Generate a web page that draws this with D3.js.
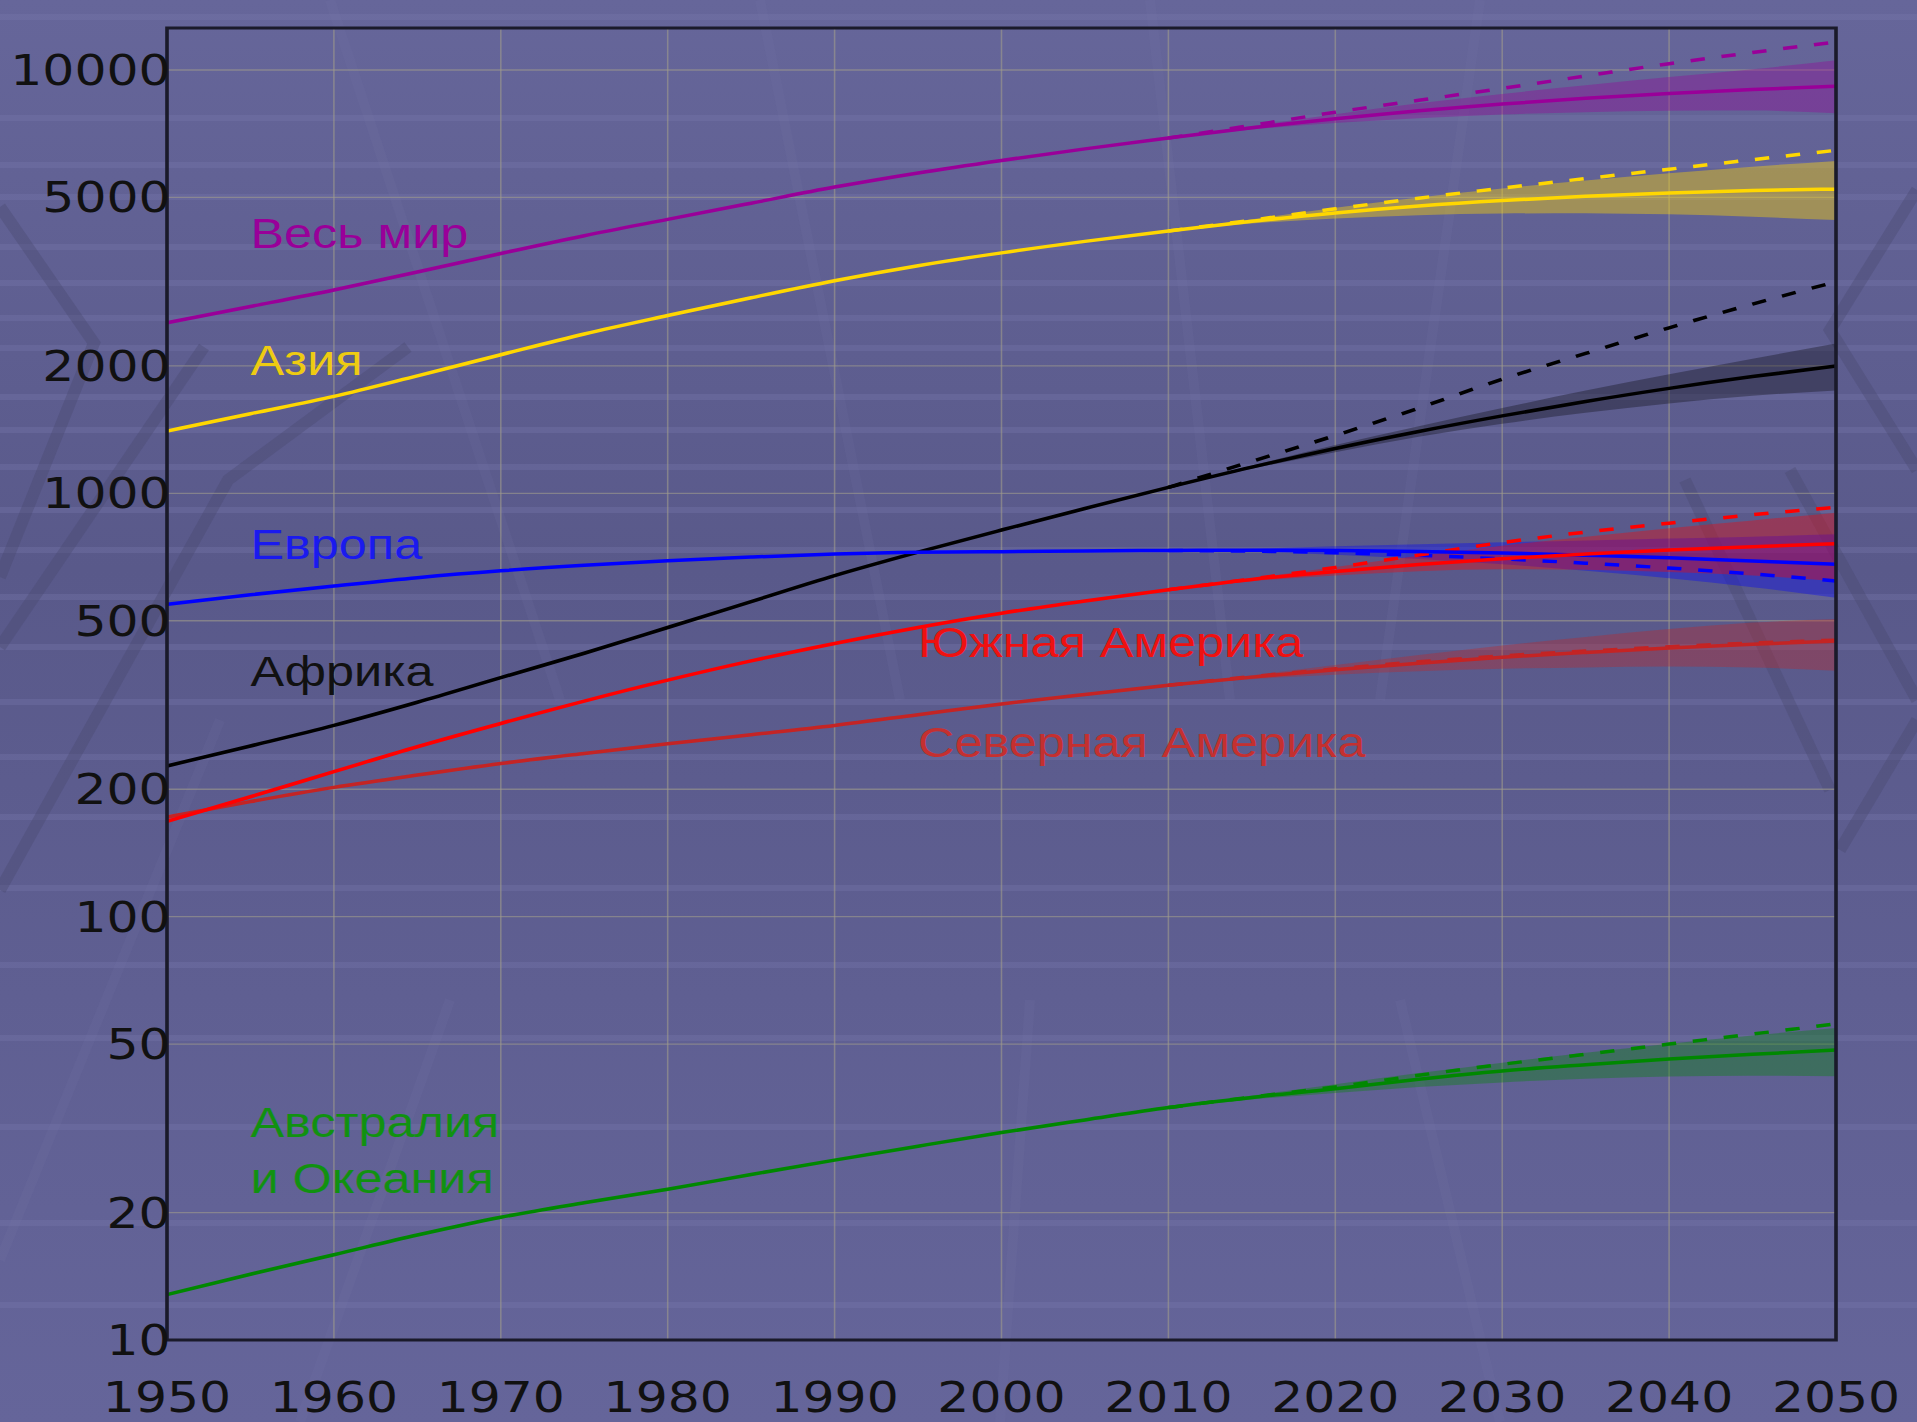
<!DOCTYPE html>
<html>
<head>
<meta charset="utf-8">
<script src="https://cdn.jsdelivr.net/npm/d3@7/dist/d3.min.js"></script>
<style>
  html, body { margin: 0; padding: 0; background: #5e5e8e; overflow: hidden; }
  .tick-label { font-family: "DejaVu Sans", sans-serif; font-size: 42px; fill: #111; }
  .series-label { font-family: "Liberation Sans", Arial, sans-serif; font-size: 42px; }
</style>
</head>
<body>
<div id="chart"></div>
<script>
// years
var histYears = [1950, 1955, 1960, 1965, 1970, 1975, 1980, 1985, 1990, 1995, 2000, 2005, 2010];
var projYears = [2010, 2015, 2020, 2025, 2030, 2035, 2040, 2045, 2050];
var xTicks = [1950, 1960, 1970, 1980, 1990, 2000, 2010, 2020, 2030, 2040, 2050];
var yTicks = [10, 20, 50, 100, 200, 500, 1000, 2000, 5000, 10000];

// population, millions
var worldHist = [2529, 2763, 3023, 3332, 3686, 4061, 4438, 4846, 5290, 5713, 6115, 6512, 6909];
var worldMed = [6909, 7302, 7675, 8012, 8309, 8571, 8801, 8996, 9150];
var worldLow = [6909, 7235, 7493, 7693, 7850, 7950, 8010, 8020, 7900];
var worldHigh = [6909, 7370, 7860, 8340, 8780, 9200, 9620, 10040, 10550];
var worldConst = [6909, 7400, 7950, 8480, 9050, 9680, 10350, 11000, 11650];

var asiaHist = [1403, 1542, 1694, 1894, 2125, 2379, 2630, 2897, 3178, 3448, 3698, 3937, 4167];
var asiaMed = [4167, 4391, 4596, 4773, 4917, 5032, 5125, 5190, 5231];
var asiaLow = [4167, 4340, 4460, 4540, 4580, 4590, 4560, 4500, 4420];
var asiaHigh = [4167, 4440, 4730, 5000, 5250, 5480, 5700, 5910, 6100];
var asiaConst = [4167, 4420, 4700, 4980, 5260, 5540, 5830, 6140, 6460];

var africaHist = [227, 253, 283, 321, 367, 419, 482, 555, 639, 726, 819, 921, 1033];
var africaMed = [1033, 1153, 1276, 1400, 1524, 1648, 1770, 1887, 1998];
var africaLow = [1033, 1143, 1250, 1360, 1460, 1550, 1630, 1700, 1750];
var africaHigh = [1033, 1163, 1300, 1440, 1590, 1750, 1910, 2080, 2260];
var africaConst = [1033, 1190, 1370, 1590, 1860, 2140, 2460, 2800, 3160];

var europeHist = [547, 576, 604, 632, 656, 676, 693, 707, 719, 726, 728, 731, 733];
var europeMed = [733, 734, 733, 729, 723, 714, 704, 692, 680];
var europeLow = [733, 728, 716, 700, 680, 656, 630, 600, 567];
var europeHigh = [733, 740, 750, 758, 766, 774, 782, 790, 800];
var europeConst = [733, 730, 724, 714, 700, 684, 666, 645, 621];

var latamHist = [168, 192, 220, 252, 286, 323, 362, 402, 442, 482, 521, 557, 592];
var latamMed = [592, 626, 654, 679, 701, 719, 735, 748, 760];
var latamLow = [592, 620, 640, 655, 662, 660, 652, 640, 620];
var latamHigh = [592, 630, 670, 712, 752, 790, 827, 863, 900];
var latamConst = [592, 628, 668, 715, 765, 810, 850, 890, 927];

var namHist = [172, 187, 202, 216, 230, 243, 256, 269, 283, 300, 318, 335, 352];
var namMed = [352, 368, 383, 397, 410, 421, 431, 440, 448];
var namLow = [352, 364, 373, 380, 385, 388, 390, 388, 381];
var namHigh = [352, 372, 393, 415, 437, 458, 478, 495, 505];
var namConst = [352, 369, 385, 400, 413, 424, 434, 443, 450];

var oceaniaHist = [12.8, 14.3, 15.9, 17.7, 19.5, 21.1, 22.7, 24.6, 26.6, 28.7, 30.9, 33.1, 35.4];
var oceaniaMed = [35.4, 37.4, 39.2, 41.3, 43.2, 44.7, 46.1, 47.3, 48.4];
var oceaniaLow = [35.4, 37.0, 38.3, 39.6, 40.6, 41.4, 41.9, 42.1, 42.0];
var oceaniaHigh = [35.4, 37.8, 40.2, 42.7, 45.2, 47.7, 50.1, 52.4, 54.6];
var oceaniaConst = [35.4, 37.5, 39.6, 42.2, 44.8, 47.3, 50.0, 52.8, 55.8];

var regions = [
  { label: ["Весь мир"], color: "#990099", text: "#990099", band: 0.35, lx: 1955, ly: 3800,
    hist: worldHist, med: worldMed, low: worldLow, high: worldHigh, cst: worldConst },
  { label: ["Азия"], color: "#ffd700", text: "#eecb12", band: 0.4, lx: 1955, ly: 1900,
    hist: asiaHist, med: asiaMed, low: asiaLow, high: asiaHigh, cst: asiaConst },
  { label: ["Африка"], color: "#000000", text: "#111111", band: 0.3, lx: 1955, ly: 350,
    hist: africaHist, med: africaMed, low: africaLow, high: africaHigh, cst: africaConst },
  { label: ["Европа"], color: "#0000ff", text: "#1a1aee", band: 0.35, lx: 1955, ly: 700,
    hist: europeHist, med: europeMed, low: europeLow, high: europeHigh, cst: europeConst },
  { label: ["Северная Америка"], color: "#c42424", text: "#c43030", band: 0.35, lx: 1995, ly: 238,
    hist: namHist, med: namMed, low: namLow, high: namHigh, cst: namConst },
  { label: ["Южная Америка"], color: "#ff0000", text: "#ee1111", band: 0.35, lx: 1995, ly: 410,
    hist: latamHist, med: latamMed, low: latamLow, high: latamHigh, cst: latamConst },
  { label: ["Австралия", "и Океания"], color: "#008800", text: "#119111", band: 0.35, lx: 1955, ly: 30.1,
    hist: oceaniaHist, med: oceaniaMed, low: oceaniaLow, high: oceaniaHigh, cst: oceaniaConst }
];

// the picture is stretched horizontally, so draw in a narrower viewBox
var stretch = 1.2;
var fullW = 1917, fullH = 1422;
var W = fullW / stretch, H = fullH;
var margin = { top: 28, left: 167 / stretch, right: W - 1836 / stretch, bottom: H - 1340 };

var svg = d3.select("#chart").append("svg")
  .attr("width", fullW).attr("height", fullH)
  .attr("viewBox", "0 0 " + W + " " + H)
  .attr("preserveAspectRatio", "none")
  .style("display", "block");

// background
var defs = svg.append("defs");
var grad = defs.append("linearGradient").attr("id", "bg").attr("x1", 0).attr("y1", 0).attr("x2", 0).attr("y2", 1);
grad.append("stop").attr("offset", "0%").attr("stop-color", "#66669a");
grad.append("stop").attr("offset", "40%").attr("stop-color", "#59598a");
grad.append("stop").attr("offset", "100%").attr("stop-color", "#65659a");
svg.append("rect").attr("width", W).attr("height", H).attr("fill", "url(#bg)");

// decoration in full-size pixel coords
var decor = svg.append("g").attr("transform", "scale(" + (1 / stretch) + ",1)");
var stripes = [17, 118, 165, 197, 247, 283, 318, 348, 397, 430, 467, 510, 550, 597, 647, 702, 757, 817, 888, 965, 1038, 1127, 1223, 1305];
decor.selectAll(".stripe").data(stripes).enter().append("rect")
  .attr("x", 0).attr("y", (d) => d - 3).attr("width", fullW).attr("height", 6)
  .attr("fill", "#7a7aae").attr("opacity", 0.32);
var lightLines = [
  [[330, 0], [560, 700]], [[760, 0], [900, 700]], [[1150, 0], [1230, 700]],
  [[1480, 0], [1380, 700]], [[0, 1260], [220, 720]],
  [[300, 1422], [450, 1000]], [[1000, 1422], [1030, 1000]], [[1500, 1422], [1400, 1000]]
];
decor.selectAll(".light").data(lightLines).enter().append("path")
  .attr("d", d3.line())
  .attr("fill", "none").attr("stroke", "#7c7cac").attr("stroke-width", 10).attr("opacity", 0.12);
var darkLines = [
  [[0, 207], [94, 343], [0, 577]],
  [[204, 347], [0, 647]],
  [[408, 347], [228, 480], [0, 890]],
  [[1917, 190], [1830, 330], [1917, 470]],
  [[1790, 470], [1917, 700]],
  [[1917, 720], [1840, 850]],
  [[1685, 480], [1830, 790]]
];
decor.selectAll(".dark").data(darkLines).enter().append("path")
  .attr("d", d3.line())
  .attr("fill", "none").attr("stroke", "#48486e").attr("stroke-width", 12).attr("opacity", 0.35);

var x = d3.scaleLinear().domain([1950, 2050]).range([margin.left, W - margin.right]);
var y = d3.scaleLog().domain([10, 10000]).range([H - margin.bottom, 70]);

var g = svg.append("g");

// grid
g.selectAll(".vgrid").data(xTicks.slice(1, -1)).enter().append("line")
  .attr("x1", (d) => x(d)).attr("x2", (d) => x(d))
  .attr("y1", margin.top).attr("y2", H - margin.bottom)
  .attr("stroke", "#a09c8c").attr("stroke-width", 1.3).attr("opacity", 0.6);
g.selectAll(".hgrid").data(yTicks).enter().append("line")
  .attr("x1", x(1950)).attr("x2", x(2050))
  .attr("y1", (d) => y(d)).attr("y2", (d) => y(d))
  .attr("stroke", "#a09c8c").attr("stroke-width", 1.3).attr("opacity", 0.6);

function pairs(years, vals) {
  return years.map(function (yr, i) { return [yr, vals[i]]; });
}

var line = d3.line().x((d) => x(d[0])).y((d) => y(d[1])).curve(d3.curveMonotoneX);
var area = d3.area()
  .x((d) => x(d.year)).y0((d) => y(d.lo)).y1((d) => y(d.hi))
  .curve(d3.curveMonotoneX);

// uncertainty bands
regions.forEach(function (r) {
  var rows = projYears.map(function (yr, i) { return { year: yr, lo: r.low[i], hi: r.high[i] }; });
  g.append("path").datum(rows)
    .attr("d", area)
    .attr("fill", r.color).attr("fill-opacity", r.band).attr("stroke", "none");
});

// constant fertility (dashed)
regions.forEach(function (r) {
  g.append("path").datum(pairs(projYears, r.cst))
    .attr("d", line)
    .attr("fill", "none").attr("stroke", r.color).attr("stroke-width", 3.5)
    .attr("stroke-dasharray", "12,14");
});

// history + median
regions.forEach(function (r) {
  var pts = pairs(histYears, r.hist).concat(pairs(projYears.slice(1), r.med.slice(1)));
  g.append("path").datum(pts)
    .attr("d", line)
    .attr("fill", "none").attr("stroke", r.color).attr("stroke-width", 3.5);
});

// frame
g.append("rect")
  .attr("x", x(1950)).attr("y", margin.top)
  .attr("width", x(2050) - x(1950)).attr("height", H - margin.bottom - margin.top)
  .attr("fill", "none").attr("stroke", "#1a1a2a").attr("stroke-width", 3);

// tick labels
g.selectAll(".ylab").data(yTicks).enter().append("text")
  .attr("class", "tick-label")
  .attr("x", margin.left + 3).attr("y", (d) => y(d) + 15)
  .attr("text-anchor", "end")
  .text((d) => d);
g.selectAll(".xlab").data(xTicks).enter().append("text")
  .attr("class", "tick-label")
  .attr("x", (d) => x(d)).attr("y", 1412)
  .attr("text-anchor", "middle")
  .text((d) => d);

// series labels
regions.forEach(function (r) {
  var t = g.append("text")
    .attr("class", "series-label")
    .attr("x", x(r.lx)).attr("y", y(r.ly))
    .attr("fill", r.text);
  r.label.forEach(function (s, i) {
    t.append("tspan").attr("x", x(r.lx)).attr("dy", i == 0 ? 0 : 56).text(s);
  });
});
</script>
</body>
</html>
